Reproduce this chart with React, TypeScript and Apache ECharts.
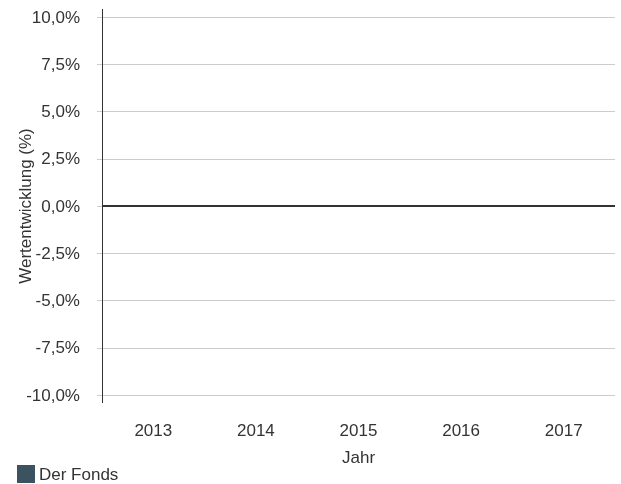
import React, { useEffect, useRef } from "react";
import * as echarts from "echarts";

const categories = ["2013", "2014", "2015", "2016", "2017"];
const fondsValues: (number | null)[] = [null, null, null, null, null];
const seriesName = "Der Fonds";
const yMin = -10;
const yMax = 10;
const yInterval = 2.5;

const fmt = (v: number) => v.toFixed(1).replace(".", ",") + "%";

export default function App() {
  const ref = useRef<HTMLDivElement>(null);
  useEffect(() => {
    if (!ref.current) return;
    const chart = echarts.init(ref.current, undefined, { renderer: "svg" });
    const font = "'Liberation Sans', Arial, Helvetica, sans-serif";
    const fs = 17;
    chart.setOption({
      animation: false,
      textStyle: { fontFamily: font },
      grid: {
        left: 102,
        right: 6,
        top: 17,
        bottom: 89,
        containLabel: false,
        outerBoundsMode: "none",
      },
      legend: {
        data: [seriesName],
        left: 17,
        top: 465,
        icon: "rect",
        itemWidth: 18,
        itemHeight: 18,
        itemGap: 10,
        padding: 0,
        textStyle: { fontSize: fs, color: "#333", fontFamily: font, padding: [0, 0, 0, -1] },
      },
      xAxis: {
        type: "category",
        data: categories,
        name: "Jahr",
        nameLocation: "middle",
        nameGap: 54,
        nameMoveOverlap: false,
        nameTextStyle: { fontSize: fs, color: "#333", fontFamily: font },
        axisLine: { show: false },
        axisTick: { show: false },
        axisLabel: { fontSize: fs, color: "#333", margin: 27, fontFamily: font },
      },
      yAxis: {
        type: "value",
        min: yMin,
        max: yMax,
        interval: yInterval,
        name: "Wertentwicklung (%)",
        nameLocation: "middle",
        nameGap: 68,
        nameMoveOverlap: false,
        nameTextStyle: { fontSize: fs, color: "#333", fontFamily: font },
        axisLine: { show: true, lineStyle: { color: "rgba(0,0,0,0)", width: 1 } },
        axisTick: { show: true, length: 5, lineStyle: { color: "#cccccc", width: 1 } },
        axisLabel: { fontSize: fs, color: "#333", margin: 22, formatter: fmt, fontFamily: font },
        splitLine: { show: true, lineStyle: { color: "#cccccc", width: 1 } },
      },
      graphic: [
        {
          type: "line",
          shape: { x1: 102.5, y1: 9, x2: 102.5, y2: 403 },
          style: { stroke: "#333", lineWidth: 1 },
          z: 10,
        },
      ],
      series: [
        {
          name: seriesName,
          type: "bar",
          data: fondsValues,
          itemStyle: { color: "#3b5260" },
          markLine: {
            silent: true,
            symbol: "none",
            label: { show: false },
            lineStyle: { color: "#333", width: 2, type: "solid" },
            data: [{ yAxis: 0 }],
          },
        },
      ],
    });
    return () => chart.dispose();
  }, []);
  return (
    <div
      ref={ref}
      style={{ position: "fixed", left: 0, top: 0, width: 621, height: 484 }}
    />
  );
}
